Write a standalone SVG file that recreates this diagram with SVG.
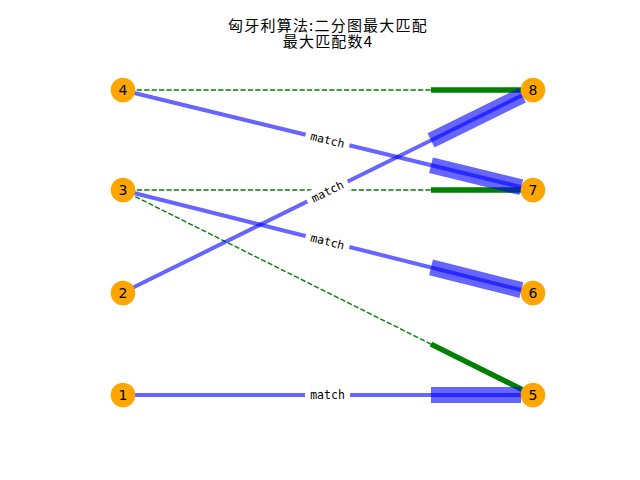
<svg xmlns="http://www.w3.org/2000/svg" width="640" height="480" viewBox="0 0 640 480">
<style>
.bl{stroke:#0000ff;stroke-opacity:0.6;stroke-width:4;fill:none}
.bh{fill:#0000ff;fill-opacity:0.6;stroke:none}
.gl{stroke:#008000;stroke-width:1.4;stroke-dasharray:5.2,2.2;fill:none}
.gh{stroke:#008000;stroke-width:5.3;fill:none}
.lb{fill:#ffffff;stroke:#ffffff}
.lt{font-family:"DejaVu Sans Mono",monospace;font-size:11.5px;fill:#000;text-anchor:middle;dominant-baseline:central}
.nd{fill:#ffa500}
.nt{font-family:"DejaVu Sans","Noto Sans CJK SC",sans-serif;font-size:14px;fill:#000;text-anchor:middle;dominant-baseline:central}
.tt{font-family:"Noto Sans CJK SC",sans-serif;font-size:15px;letter-spacing:1.2px;fill:#000;text-anchor:middle}
</style>
<rect width="640" height="480" fill="#ffffff"/>
<g id="title">
<text class="tt" x="328" y="30.5">匈牙利算法:二分图最大匹配</text>
<text class="tt" x="328" y="47">最大匹配数4</text>
</g>
<g id="connectors">
<line class="gl" x1="122" y1="90" x2="533" y2="90"/>
<line class="gh" x1="431" y1="90" x2="522" y2="90"/>
<line class="gl" x1="122" y1="190" x2="533" y2="190"/>
<line class="gh" x1="431" y1="190" x2="522" y2="190"/>
<line class="gl" x1="122" y1="190" x2="533" y2="395"/>
<line class="gh" x1="431" y1="344.1" x2="522.3" y2="389.6"/>
<line class="bl" x1="122" y1="90" x2="533" y2="190"/>
<polygon class="bh" points="429.1,173 432.9,157.4 523.2,179.4 519.4,195"/>
<line class="bl" x1="122" y1="293" x2="533" y2="90"/>
<polygon class="bh" points="434.5,147.6 427.5,133.2 518.7,88.1 525.8,102.5"/>
<line class="bl" x1="122" y1="190" x2="533" y2="293"/>
<polygon class="bh" points="429.1,275.2 432.9,259.6 523.3,282.3 519.4,297.9"/>
<line class="bl" x1="122" y1="395" x2="533" y2="395"/>
<polygon class="bh" points="431,387 521,387 521,403 431,403"/>
</g>
<g id="edge-labels">
<g transform="translate(327.5,140) rotate(13.7)"><rect class="lb" x="-22" y="-8" width="44" height="16" rx="3"/><text class="lt" x="0" y="0">match</text></g>
<g transform="translate(327.5,191.5) rotate(-26.3)"><rect class="lb" x="-22" y="-8" width="44" height="16" rx="3"/><text class="lt" x="0" y="0">match</text></g>
<g transform="translate(327.5,241.5) rotate(14.1)"><rect class="lb" x="-22" y="-8" width="44" height="16" rx="3"/><text class="lt" x="0" y="0">match</text></g>
<g transform="translate(327.5,395)"><rect class="lb" x="-22" y="-8" width="44" height="16" rx="3"/><text class="lt" x="0" y="0">match</text></g>
</g>
<g id="node-4"><circle class="nd" cx="123" cy="90" r="12.3"/><text class="nt" x="123" y="90">4</text></g>
<g id="node-3"><circle class="nd" cx="123" cy="190" r="12.3"/><text class="nt" x="123" y="190">3</text></g>
<g id="node-2"><circle class="nd" cx="123" cy="293" r="12.3"/><text class="nt" x="123" y="293">2</text></g>
<g id="node-1"><circle class="nd" cx="123" cy="395" r="12.3"/><text class="nt" x="123" y="395">1</text></g>
<g id="node-8"><circle class="nd" cx="533" cy="90" r="12.3"/><text class="nt" x="533" y="90">8</text></g>
<g id="node-7"><circle class="nd" cx="533" cy="190" r="12.3"/><text class="nt" x="533" y="190">7</text></g>
<g id="node-6"><circle class="nd" cx="533" cy="293" r="12.3"/><text class="nt" x="533" y="293">6</text></g>
<g id="node-5"><circle class="nd" cx="533" cy="395" r="12.3"/><text class="nt" x="533" y="395">5</text></g>
</svg>
